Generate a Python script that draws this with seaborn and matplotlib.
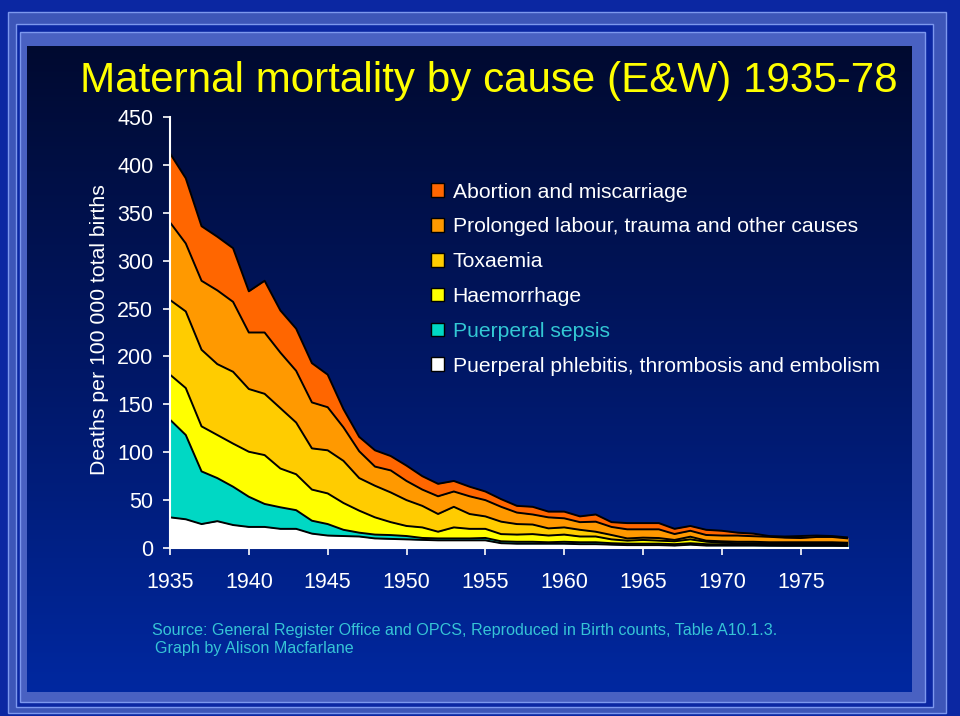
"""Maternal mortality by cause, England & Wales 1935-78, as stacked areas."""

import numpy as np
import pandas as pd
import matplotlib
matplotlib.use('Agg')
import matplotlib.pyplot as plt
from matplotlib.patches import Rectangle, Patch
from matplotlib.colors import LinearSegmentedColormap
import seaborn as sns

## DATA (deaths per 100 000 total births)
YEARS = list(range(1935, 1979))

PHLEBITIS = [32, 30, 25, 28, 24, 22, 22, 20, 20, 15, 13, 12.5, 12, 10, 9.5, 9, 8.5, 8, 8, 8,
             8, 5, 4.5, 4.5, 4.5, 4.5, 4, 4, 3.5, 3, 3, 3, 2.5, 3.5, 2.5, 2.5, 2.5, 2.5, 2.3,
             2.2, 2.2, 2.2, 2.2, 2]
SEPSIS = [102, 88, 55, 45, 40, 31.5, 24, 22.5, 19.5, 13.5, 12, 6.5, 4, 4, 4, 3.5, 2, 2, 2, 2,
          2.5, 2, 2, 2, 1.5, 2, 2, 2, 1.5, 1.5, 1.5, 1.5, 1.5, 1.5, 1.5, 1.3, 1, 1, 1, 1, 1,
          1, 1, 1]
HAEMORRHAGE = [47, 49, 47, 45, 45, 47, 51, 40.5, 37.5, 32.5, 32, 28, 23, 18, 13.5, 10.5, 11, 7,
               11.5, 10, 9.5, 7.5, 7.5, 8, 7, 7.5, 6, 6, 4, 3.2, 3.9, 3.2, 3, 4, 2.6, 1.7, 1.5,
               1.5, 1.5, 1.3, 1.3, 1.3, 1.3, 1.3]
TOXAEMIA = [78, 80, 80, 74, 75, 65.5, 64, 63, 54, 43, 45, 44, 34, 33, 31, 27, 22.5, 18.5, 21.5,
            15.5, 13, 13, 11, 10, 7.5, 7.5, 7, 5, 4.6, 2.3, 2.4, 2.7, 1.4, 2.8, 1.1, 1.5, 1.5,
            1.5, 1.2, 1.5, 1.5, 1.5, 1.5, 1.2]
PROLONGED = [81, 71, 72, 77, 73, 59, 64, 58, 54, 48, 45, 35, 28, 20, 23, 20, 17, 18.5, 16, 18.5,
             17, 15.5, 12, 10.5, 11.5, 9.5, 8, 10.5, 8.4, 9.5, 8.7, 9.1, 6.2, 6.2, 5.9, 6, 6.5,
             5.8, 5.7, 4.8, 4.4, 5.5, 5.5, 4.5]
ABORTION = [72, 68, 57, 56, 56, 43, 54, 44, 44, 41, 34, 19, 15, 17, 15, 16, 14, 13, 11, 10, 9, 8,
            7, 8, 6, 7, 6, 7.5, 5, 6.5, 6.5, 6.5, 5.4, 5, 5.4, 5, 3, 2.7, 0.8, 1.2, 2.1, 1.5, 1, 1]

# bottom layer first
LABELS = ['Puerperal phlebitis, thrombosis and embolism', 'Puerperal sepsis', 'Haemorrhage',
          'Toxaemia', 'Prolonged labour, trauma and other causes', 'Abortion and miscarriage']
SERIES = [PHLEBITIS, SEPSIS, HAEMORRHAGE, TOXAEMIA, PROLONGED, ABORTION]
COLORS = ['#ffffff', '#00d8c4', '#ffff00', '#ffcc00', '#ff9900', '#ff6600']
LABEL_COLORS = ['white', '#33c8d4', 'white', 'white', 'white', 'white']

XTICKS = list(range(1935, 1980, 5))
YTICKS = list(range(0, 451, 50))

TITLE = 'Maternal mortality by cause (E&W) 1935-78'
YLABEL = 'Deaths per 100 000 total births'
SOURCE1 = 'Source: General Register Office and OPCS, Reproduced in Birth counts, Table A10.1.3.'
SOURCE2 = 'Graph by Alison Macfarlane'

## SETTINGS
W, H = 960, 716
SRC_COLOR = '#36c4d6'


def px_rect(x0, y0, x1, y1):
    """Pixel box (top-left origin) to figure fraction [left, bottom, width, height]."""
    return [x0 / W, 1 - y1 / H, (x1 - x0) / W, (y1 - y0) / H]


def add_frame(fig):
    """Nested slide frame behind the chart."""
    for (x0, y0, x1, y1), face in [((8, 12, 946, 713), '#3d56b8'),
                                   ((16, 24, 933, 707), '#0b27a2'),
                                   ((20, 32, 925, 702), '#4961c2')]:
        l, b, w, h = px_rect(x0, y0, x1, y1)
        fig.patches.append(Rectangle((l, b), w, h, transform=fig.transFigure,
                                     facecolor=face, edgecolor='#7d98ee', lw=1, zorder=0))

    bg = fig.add_axes(px_rect(27, 46, 912, 692), zorder=1)
    cmap = LinearSegmentedColormap.from_list('panel', ['#000a30', '#001766', '#0028a0'])
    bg.imshow(np.linspace(0, 1, 256).reshape(-1, 1), aspect='auto', cmap=cmap,
              extent=[0, 1, 0, 1])
    bg.set_axis_off()


sns.set_theme(style='ticks')
plt.rcParams['font.family'] = ['Liberation Sans', 'DejaVu Sans']

fig = plt.figure(figsize=(W / 100, H / 100), dpi=100, facecolor='#0b27a2')
add_frame(fig)

ax = fig.add_axes(px_rect(170, 117, 848, 548), zorder=2)
ax.set_facecolor('none')

df = pd.DataFrame(dict(zip(LABELS, SERIES)), index=YEARS)
cum = df.cumsum(axis=1)

lower = np.zeros(len(YEARS))
for label, color in zip(LABELS, COLORS):
    upper = cum[label].values
    ax.fill_between(YEARS, lower, upper, color=color, lw=0, zorder=1)
    lower = upper
for label in LABELS:
    sns.lineplot(x=YEARS, y=cum[label].values, color='black', lw=1.4, ax=ax, zorder=3)

ax.set(xlim=(1935, 1978), ylim=(0, 450), xticks=XTICKS, yticks=YTICKS)
sns.despine(ax=ax)
for side in ['left', 'bottom']:
    ax.spines[side].set_color('white')
    ax.spines[side].set_linewidth(1.5)
    ax.spines[side].set_zorder(4)
ax.tick_params(colors='white', labelsize=15.5, length=5, width=1.2, direction='out')
ax.tick_params(axis='x', pad=12)
ax.tick_params(axis='y', pad=7)

handles = [Patch(facecolor=c, edgecolor='black', lw=1) for c in COLORS[::-1]]
ax.legend(handles, LABELS[::-1], loc='upper left', bbox_to_anchor=(431 / W, 1 - 182.5 / H),
          bbox_transform=fig.transFigure, frameon=False, fontsize=15.2,
          handlelength=0.62, handleheight=0.62, handletextpad=0.4, labelspacing=0.75,
          borderpad=0, borderaxespad=0, labelcolor=LABEL_COLORS[::-1])

fig.text(80 / W, 1 - 81 / H, TITLE, color='#ffff00', fontsize=30.3, va='center', ha='left')
fig.text(100 / W, 1 - 330 / H, YLABEL, color='white', fontsize=15.3, rotation=90,
         va='center', ha='center')
fig.text(152 / W, 1 - 630 / H, SOURCE1, color=SRC_COLOR, fontsize=11.6, va='center')
fig.text(155 / W, 1 - 649 / H, SOURCE2, color=SRC_COLOR, fontsize=11.6, va='center')

fig.savefig('out.png', dpi=100, facecolor=fig.get_facecolor())
